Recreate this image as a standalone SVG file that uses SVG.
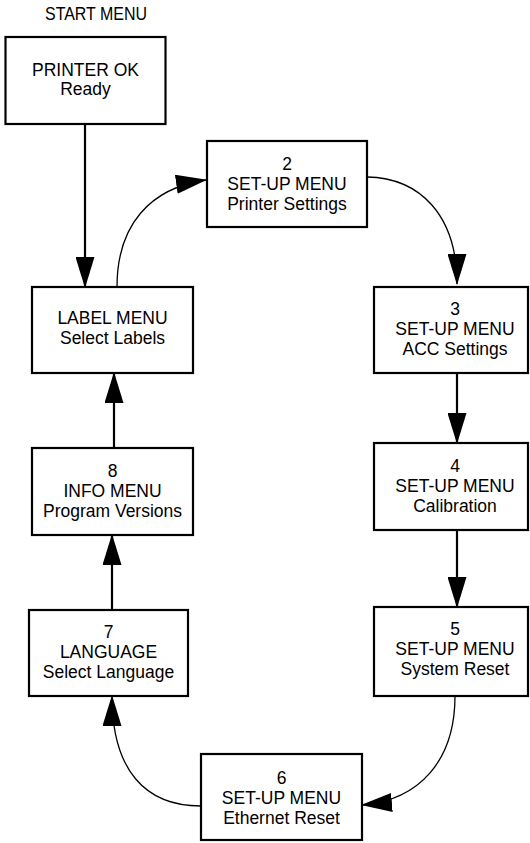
<svg xmlns="http://www.w3.org/2000/svg" width="530" height="843" viewBox="0 0 530 843">
<style>
.box{fill:#fff;stroke:#000;stroke-width:2.2}
.t{font-family:"Liberation Sans",Arial,sans-serif;font-size:17.5px;fill:#000;text-anchor:middle}
.s{fill:none;stroke:#000;stroke-width:2.2}
.c{fill:none;stroke:#000;stroke-width:1.3}
</style>
<defs>
<marker id="ah" markerUnits="userSpaceOnUse" markerWidth="31" markerHeight="19" viewBox="0 0 31 19" refX="30" refY="9.5" orient="auto">
<path d="M0,0 L31,9.5 L0,19 Z" fill="#000"/>
</marker>
</defs>
<rect width="530" height="843" fill="#fff"/>
<text x="96" y="20" font-family="'Liberation Sans',Arial,sans-serif" font-size="18" text-anchor="middle" textLength="102" lengthAdjust="spacingAndGlyphs">START MENU</text>
<g id="connectors">
<path class="s" d="M85,124 L85,287" marker-end="url(#ah)"/>
<path class="c" d="M117,287 C117,225 150,188 206,180" marker-end="url(#ah)"/>
<path class="c" d="M367,177 C420,178 457,215 457,284" marker-end="url(#ah)"/>
<path class="s" d="M457,373 L457,443" marker-end="url(#ah)"/>
<path class="s" d="M457,530 L457,607" marker-end="url(#ah)"/>
<path class="c" d="M455,696 C455,760 420,800 362,805" marker-end="url(#ah)"/>
<path class="c" d="M201,806 C145,806 112,770 112,696" marker-end="url(#ah)"/>
<path class="s" d="M112,610 L112,535" marker-end="url(#ah)"/>
<path class="s" d="M114,448 L114,373" marker-end="url(#ah)"/>
</g>
<g id="n_printer">
<rect class="box" x="5.5" y="37" width="160" height="87"/>
<text class="t" x="85.5" y="75.6">PRINTER OK</text>
<text class="t" x="85.5" y="95.3">Ready</text>
</g>
<g id="n2">
<rect class="box" x="207" y="141" width="160" height="86"/>
<text class="t" x="287" y="170.3">2</text>
<text class="t" x="287" y="190">SET-UP MENU</text>
<text class="t" x="287" y="209.7">Printer Settings</text>
</g>
<g id="n3">
<rect class="box" x="374" y="287" width="154" height="86"/>
<text class="t" x="455" y="315.3">3</text>
<text class="t" x="455" y="335">SET-UP MENU</text>
<text class="t" x="455" y="354.7">ACC Settings</text>
</g>
<g id="n4">
<rect class="box" x="374" y="443" width="154" height="87"/>
<text class="t" x="455" y="472.3">4</text>
<text class="t" x="455" y="492">SET-UP MENU</text>
<text class="t" x="455" y="511.7">Calibration</text>
</g>
<g id="n5">
<rect class="box" x="374" y="607" width="154" height="89"/>
<text class="t" x="455" y="635.3">5</text>
<text class="t" x="455" y="655">SET-UP MENU</text>
<text class="t" x="455" y="674.7">System Reset</text>
</g>
<g id="n6">
<rect class="box" x="201" y="754" width="161" height="86"/>
<text class="t" x="281.5" y="784.3">6</text>
<text class="t" x="281.5" y="804">SET-UP MENU</text>
<text class="t" x="281.5" y="823.7">Ethernet Reset</text>
</g>
<g id="n7">
<rect class="box" x="29" y="610" width="159" height="86"/>
<text class="t" x="108.5" y="638.3">7</text>
<text class="t" x="108.5" y="658">LANGUAGE</text>
<text class="t" x="108.5" y="677.7">Select Language</text>
</g>
<g id="n8">
<rect class="box" x="32" y="448" width="161" height="87"/>
<text class="t" x="112.5" y="477.3">8</text>
<text class="t" x="112.5" y="497">INFO MENU</text>
<text class="t" x="112.5" y="516.7">Program Versions</text>
</g>
<g id="n_label">
<rect class="box" x="32" y="287" width="161" height="86"/>
<text class="t" x="112.5" y="324.2">LABEL MENU</text>
<text class="t" x="112.5" y="343.9">Select Labels</text>
</g>
</svg>
